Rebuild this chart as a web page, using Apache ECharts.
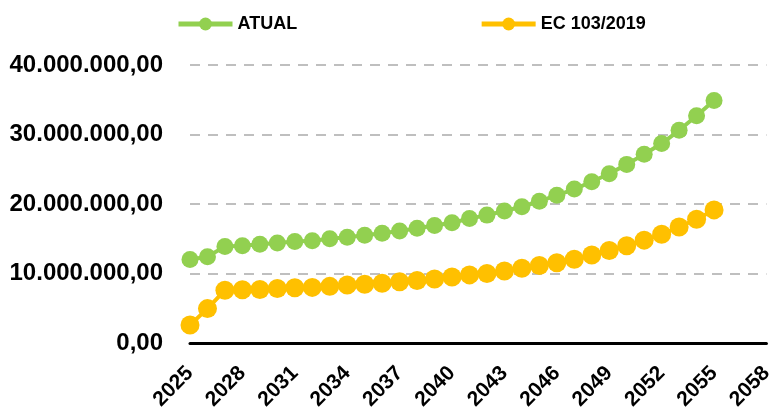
<!DOCTYPE html>
<html>
<head>
<meta charset="utf-8">
<script src="https://cdn.jsdelivr.net/npm/echarts@6/dist/echarts.min.js"></script>
<style>html,body{margin:0;padding:0;background:#fff}#c{width:776px;height:413px}</style>
</head>
<body>
<div id="c"></div>
<script>
const years = [2025,2026,2027,2028,2029,2030,2031,2032,2033,2034,2035,2036,2037,2038,2039,2040,2041,2042,2043,2044,2045,2046,2047,2048,2049,2050,2051,2052,2053,2054,2055];
const atual = [12.0,12.4,13.9,14.0,14.2,14.4,14.6,14.7,15.0,15.2,15.5,15.8,16.1,16.5,16.9,17.3,17.9,18.4,19.0,19.6,20.4,21.25,22.15,23.2,24.35,25.7,27.15,28.7,30.6,32.7,34.9];
const ec103 = [2.6,4.95,7.6,7.65,7.7,7.85,7.95,8.0,8.15,8.35,8.45,8.6,8.8,9.0,9.2,9.5,9.8,10.0,10.35,10.75,11.15,11.55,12.05,12.65,13.3,14.0,14.8,15.65,16.7,17.8,19.15];
const seriesNames = ['ATUAL','EC 103/2019'];
const xTicks = {min: 2025, max: 2058, step: 3};
const yTicks = {min: 0, max: 40000000, step: 10000000};

const toPairs = arr => years.map((y,i)=>[y, arr[i]*1e6]);
const fmt = v => v.toLocaleString('pt-BR',{minimumFractionDigits:2, maximumFractionDigits:2});

const chart = echarts.init(document.getElementById('c'));
chart.setOption({
  animation:false,
  textStyle:{fontFamily:'Liberation Sans'},
  legend:{
    top:10, left:171, itemGap:182, itemWidth:54, itemHeight:16,
    lineStyle:{width:5},
    textStyle:{fontWeight:'bold', fontSize:18, color:'#000', fontFamily:'Liberation Sans'},
    data: seriesNames
  },
  grid:{left:190, right:9, top:65, bottom:70, containLabel:false},
  xAxis:{
    type:'value', min:xTicks.min, max:xTicks.max, interval:xTicks.step,
    axisLine:{show:true, onZero:false, lineStyle:{color:'#000', width:3}},
    axisTick:{show:false},
    splitLine:{show:false},
    axisLabel:{rotate:45, fontWeight:'bold', fontSize:21, color:'#000', margin:27, formatter: v=>String(v), fontFamily:'Liberation Sans'}
  },
  yAxis:{
    type:'value', min:yTicks.min, max:yTicks.max, interval:yTicks.step,
    axisLine:{show:false}, axisTick:{show:false},
    splitLine:{lineStyle:{color:'#BFBFBF', type:[10,8], width:2}},
    axisLabel:{fontWeight:'bold', fontSize:24, color:'#000', margin:27, formatter: fmt, fontFamily:'Liberation Sans'}
  },
  series:[
    {name:seriesNames[0], type:'line', data:toPairs(atual), symbol:'circle', symbolSize:17,
     lineStyle:{color:'#92D050', width:4}, itemStyle:{color:'#92D050'}},
    {name:seriesNames[1], type:'line', data:toPairs(ec103), symbol:'circle', symbolSize:19,
     lineStyle:{color:'#FFC000', width:4}, itemStyle:{color:'#FFC000'}}
  ]
});
</script>
</body>
</html>
